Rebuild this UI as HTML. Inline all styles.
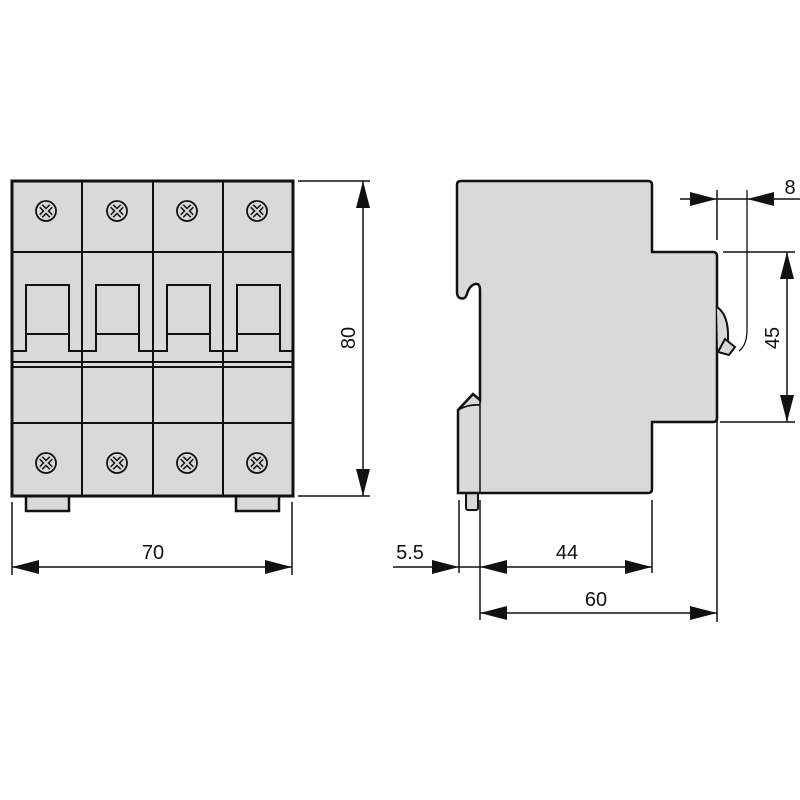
<!DOCTYPE html>
<html><head><meta charset="utf-8"><style>
html,body{margin:0;padding:0;background:#fff;}
svg{display:block;}
text{font-family:"Liberation Sans",sans-serif;font-size:20px;fill:#111;}
</style></head><body>
<svg width="800" height="800" viewBox="0 0 800 800" xmlns="http://www.w3.org/2000/svg">
<defs>
<g id="screw">
<circle r="10" fill="#d9d9d9" stroke="#111" stroke-width="1.8"/>
<path d="M-5,-5 L5,5 M5,-5 L-5,5" stroke="#111" stroke-width="5"/>
<path d="M-5,-5 L5,5 M5,-5 L-5,5" stroke="#d9d9d9" stroke-width="2"/>
</g>
<g id="handle">
<path d="M0,351 H14 V285 H57 V351 H70" fill="none" stroke="#111" stroke-width="2"/>
<line x1="14" y1="334" x2="57" y2="334" stroke="#111" stroke-width="2"/>
</g>
</defs>
<!-- front view -->
<rect x="26" y="494" width="43" height="17" fill="#d9d9d9" stroke="#111" stroke-width="2.5"/>
<rect x="236" y="494" width="43" height="17" fill="#d9d9d9" stroke="#111" stroke-width="2.5"/>
<rect x="12" y="181" width="281" height="315" fill="#d9d9d9" stroke="#111" stroke-width="3"/>
<g stroke="#111" stroke-width="2">
<line x1="82" y1="181" x2="82" y2="496"/>
<line x1="153" y1="181" x2="153" y2="496"/>
<line x1="223" y1="181" x2="223" y2="496"/>
<line x1="12" y1="252" x2="293" y2="252"/>
<line x1="12" y1="362" x2="293" y2="362"/>
<line x1="12" y1="367" x2="293" y2="367"/>
<line x1="12" y1="423" x2="293" y2="423"/>
</g>
<use href="#handle" x="12"/><use href="#handle" x="82"/><use href="#handle" x="153"/><use href="#handle" x="223"/>
<use href="#screw" x="46" y="211"/><use href="#screw" x="117" y="211"/><use href="#screw" x="187" y="211"/><use href="#screw" x="257" y="211"/>
<use href="#screw" x="46" y="463"/><use href="#screw" x="117" y="463"/><use href="#screw" x="187" y="463"/><use href="#screw" x="257" y="463"/>

<!-- side view -->
<rect x="466" y="490" width="12" height="20" rx="2" fill="#d9d9d9" stroke="#111" stroke-width="2"/>
<path d="M461,181 H648 Q652,181 652,185 V252 H713 Q717,252 717,256 V418 Q717,422 713,422 H652 V489 Q652,493 648,493 H458 V410 L473,394 L480,400 V290 Q480,283 475,284 Q469,286 467,294 Q465,300 460,298 Q457,297 457,292 V185 Q457,181 461,181 Z" fill="#d9d9d9" stroke="#111" stroke-width="2.5"/>
<path d="M458,410 Q468,404 480,405" fill="none" stroke="#111" stroke-width="1.8"/>
<line x1="480" y1="400" x2="480" y2="493" stroke="#111" stroke-width="1.5"/>
<path d="M717,307 Q729,315 728,340 L718,352" fill="#d9d9d9" stroke="#111" stroke-width="2"/>
<path d="M718,352 L725,339 L735,347 L729,355 Z" fill="#d9d9d9" stroke="#111" stroke-width="2"/>
<path d="M747,190 V330 Q747,345 739,351" fill="none" stroke="#111" stroke-width="1.3"/>

<!-- dimension lines -->
<g stroke="#111" stroke-width="1.5" fill="none">
<line x1="298" y1="181" x2="370" y2="181"/>
<line x1="298" y1="496" x2="370" y2="496"/>
<line x1="363" y1="181" x2="363" y2="496"/>
<line x1="12" y1="502" x2="12" y2="575"/>
<line x1="292" y1="502" x2="292" y2="575"/>
<line x1="12" y1="567" x2="292" y2="567"/>
<line x1="680" y1="199" x2="800" y2="199"/>
<line x1="717" y1="190" x2="717" y2="240"/>
<line x1="723" y1="252" x2="795" y2="252"/>
<line x1="720" y1="422" x2="795" y2="422"/>
<line x1="787" y1="252" x2="787" y2="422"/>
<line x1="717" y1="358" x2="717" y2="622"/>
<line x1="459" y1="500" x2="459" y2="573"/>
<line x1="480" y1="500" x2="480" y2="620"/>
<line x1="652" y1="500" x2="652" y2="573"/>
<line x1="393" y1="567" x2="652" y2="567"/>
<line x1="480" y1="613" x2="717" y2="613"/>
</g>
<g fill="#111">
<polygon points="363,181 356,208 370,208"/>
<polygon points="363,496 356,469 370,469"/>
<polygon points="12,567 39,560 39,574"/>
<polygon points="292,567 265,560 265,574"/>
<polygon points="717,199 690,192 690,206"/>
<polygon points="747,199 774,192 774,206"/>
<polygon points="787,252 780,279 794,279"/>
<polygon points="787,422 780,395 794,395"/>
<polygon points="459,567 432,560 432,574"/>
<polygon points="480,567 507,560 507,574"/>
<polygon points="652,567 625,560 625,574"/>
<polygon points="480,613 507,606 507,620"/>
<polygon points="717,613 690,606 690,620"/>
</g>
<text x="153" y="559" text-anchor="middle">70</text>
<text transform="translate(355,338) rotate(-90)" text-anchor="middle">80</text>
<text x="790" y="194" text-anchor="middle">8</text>
<text transform="translate(779,338) rotate(-90)" text-anchor="middle">45</text>
<text x="410" y="559" text-anchor="middle">5.5</text>
<text x="567" y="559" text-anchor="middle">44</text>
<text x="596" y="606" text-anchor="middle">60</text>
</svg>
</body></html>
